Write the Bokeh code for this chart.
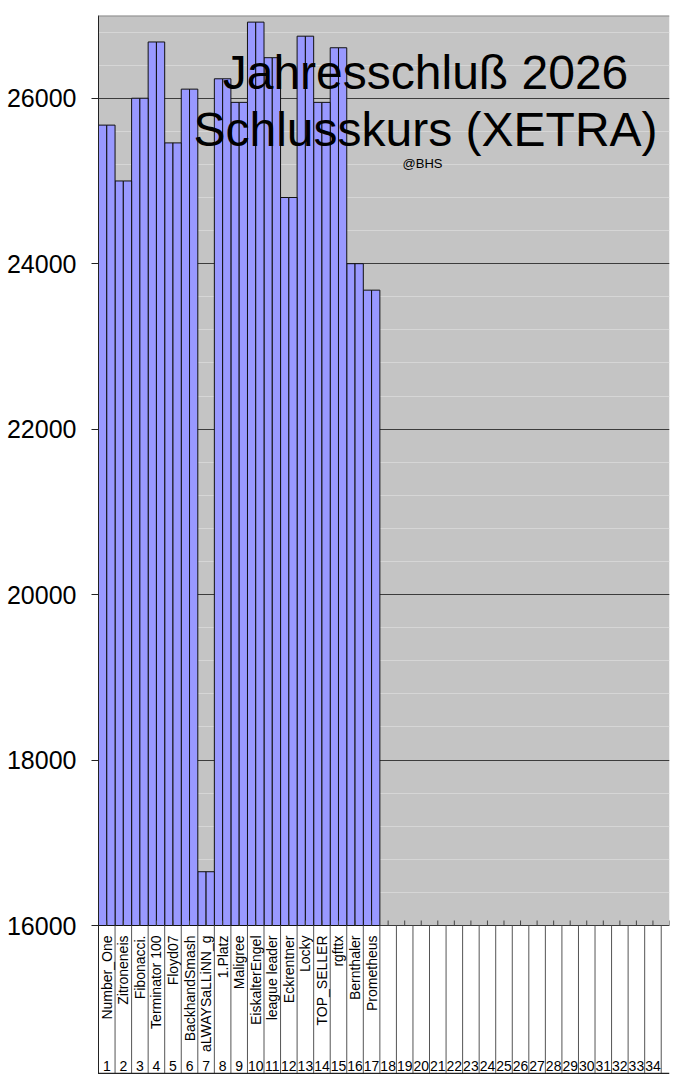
from bokeh.plotting import figure
from bokeh.models import Range1d, FixedTicker, ColumnDataSource, Span
from bokeh.transform import dodge
from bokeh.core.properties import value
from bokeh.embed import file_html
from bokeh.resources import INLINE

# ---- data ----
teilnehmer = ["Number_One", "Zitroneneis", "Fibonacci.", "Terminator 100", "Floyd07",
              "BackhandSmash", "aLWAYSaLLiNN_g", "1.Platz", "Maligree", "EiskalterEngel",
              "league leader", "Eckrentner", "Locky", "TOP_SELLER", "rgfttx",
              "Bernthaler", "Prometheus"]
schlusskurs = [25675, 25000, 26000, 26680, 25460, 26110, 16650, 26235, 25950, 26920,
               26490, 24800, 26750, 25950, 26610, 24000, 23680]
n_spalten = 35
y_ticks = [16000, 18000, 20000, 22000, 24000, 26000]
y_minor = [v for v in range(16000, 27001, 400)]
titel1 = "Jahresschluß 2026"
titel2 = "Schlusskurs (XETRA)"
autor = "@BHS"

# ---- layout ----
FONT = "Liberation Sans"
top_px = 15
fig_h = 1074
frame_h = fig_h - top_px
plot_px = 910             # grey plot area height (page 15 .. 925)
table_px = frame_h - plot_px
y_lo, y_hi = 16000, 27000
upp = (y_hi - y_lo) / plot_px
y_start = y_lo - table_px * upp
frame_w = 571

def py(page_y):
    # page y -> pixel coordinate in frame (from bottom)
    return frame_h - (page_y - top_px)

p = figure(width=98 + frame_w + 4, height=fig_h, output_backend="svg", toolbar_location=None,
           x_range=Range1d(0.5, 35.0), y_range=Range1d(y_start, y_hi),
           x_axis_location=None, min_border_left=98, min_border_right=4,
           min_border_top=top_px, min_border_bottom=0, background_fill_color="white",
           border_fill_color="white", outline_line_color=None)
p.extra_y_ranges = {"px": Range1d(0, frame_h)}
p.extra_x_ranges = {"px": Range1d(0, frame_w)}

# grey plot area
p.quad(left=0.5, right=35.0, bottom=y_lo, top=y_hi, fill_color="#c4c4c4",
       line_color=None, level="image")
p.add_layout(Span(location=y_hi, dimension="width", line_color="#8a8a8a", line_width=2))

tk = FixedTicker(ticks=y_ticks, minor_ticks=y_minor)
p.yaxis.ticker = tk
p.ygrid.ticker = tk
p.ygrid.grid_line_color = "#3c3c3c"
p.ygrid.grid_line_width = 1
p.ygrid.minor_grid_line_color = "#d6d6d6"
p.xgrid.visible = False

ax = p.yaxis[0]
ax.major_label_text_font = FONT
ax.major_label_text_font_size = "25px"
ax.major_label_text_color = "black"
ax.major_tick_out = 7
ax.major_tick_in = 0
ax.minor_tick_out = 0
ax.minor_tick_in = 0
ax.major_label_standoff = 15
ax.axis_line_color = "#222222"
ax.major_tick_line_color = "#222222"

# bars (two adjacent half-bars per category)
xs = list(range(1, len(teilnehmer) + 1))
src = ColumnDataSource(dict(x=xs, v=schlusskurs, name=teilnehmer))
for off in (-0.25, 0.25):
    p.vbar(x=dodge("x", off, range=p.x_range), top="v", bottom=y_lo, width=0.5,
           source=src, fill_color="#9999ff", line_color="#111111", line_width=1)

# table below plot area
bounds = [k + 0.5 for k in range(n_spalten)]
p.segment(x0=bounds, x1=bounds, y0=[0] * len(bounds), y1=[table_px] * len(bounds),
          y_range_name="px", line_color="#555555", line_width=1)
centers = list(range(1, n_spalten + 1))
p.segment(x0=centers, x1=centers, y0=[table_px] * n_spalten,
          y1=[table_px + 5] * n_spalten, y_range_name="px",
          line_color="#444444", line_width=1)
p.segment(x0=[0.5], x1=[35.0], y0=[1], y1=[1], y_range_name="px",
          line_color="#222222", line_width=1.5)

p.text(x="x", y=py(935), text="name", source=src, y_range_name="px",
       angle=1.5707963, text_align="right", text_baseline="middle",
       text_font=value(FONT), text_font_size=value("14px"), text_color="black")
p.text(x=centers[:-1], y=[py(1070)] * (n_spalten - 1), text=[str(c) for c in centers[:-1]],
       y_range_name="px", text_align="center", text_baseline="bottom",
       text_font=value(FONT), text_font_size=value("14px"), text_color="black")

# title
p.text(x=[327], y=[py(72)], text=[titel1], x_range_name="px", y_range_name="px",
       text_align="center", text_baseline="alphabetic", text_font=value(FONT),
       text_font_size=value("48px"), text_color="black", level="overlay")
p.text(x=[327], y=[py(129)], text=[titel2], x_range_name="px", y_range_name="px",
       text_align="center", text_baseline="alphabetic", text_font=value(FONT),
       text_font_size=value("48px"), text_color="black", level="overlay")
p.text(x=[324], y=[py(163)], text=[autor], x_range_name="px", y_range_name="px",
       text_align="center", text_baseline="alphabetic", text_font=value(FONT),
       text_font_size=value("13px"), text_color="black", level="overlay")

open("out.html", "w").write(file_html(p, INLINE))
